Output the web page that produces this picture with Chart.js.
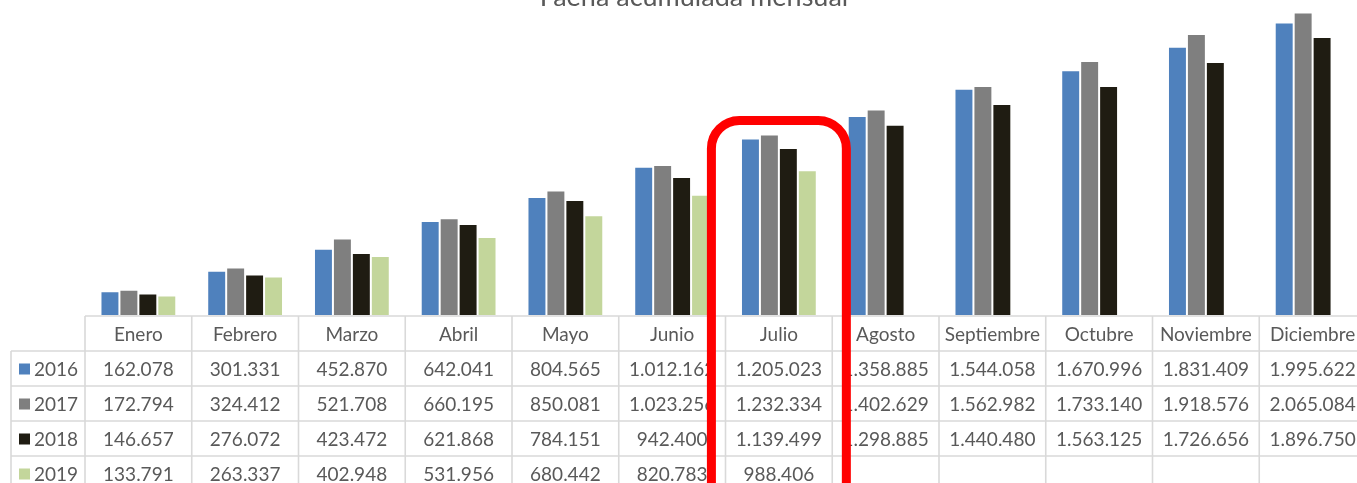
<!DOCTYPE html>
<html>
<head>
<meta charset="utf-8">
<script src="https://cdn.jsdelivr.net/npm/chart.js@4/dist/chart.umd.min.js"></script>
<style>
  html, body { margin: 0; padding: 0; background: #fff; overflow: hidden; }
  #wrap { width: 1372px; height: 483px; }
</style>
</head>
<body>
<div id="wrap"><canvas id="chart" width="1372" height="483"></canvas></div>
<script>
// datos (faena acumulada mensual)
const meses = ['Enero', 'Febrero', 'Marzo', 'Abril', 'Mayo', 'Junio', 'Julio', 'Agosto', 'Septiembre', 'Octubre', 'Noviembre', 'Diciembre'];
const anios = ['2016', '2017', '2018', '2019'];
const v2016 = [162078, 301331, 452870, 642041, 804565, 1012162, 1205023, 1358885, 1544058, 1670996, 1831409, 1995622];
const v2017 = [172794, 324412, 521708, 660195, 850081, 1023256, 1232334, 1402629, 1562982, 1733140, 1918576, 2065084];
const v2018 = [146657, 276072, 423472, 621868, 784151, 942400, 1139499, 1298885, 1440480, 1563125, 1726656, 1896750];
const v2019 = [133791, 263337, 402948, 531956, 680442, 820783, 988406, null, null, null, null, null];
const colores = ['#4F81BD', '#7F7F7F', '#1F1C12', '#C3D69B'];
const mesResaltado = 'Julio';

const series = [v2016, v2017, v2018, v2019];
const fmt = n => n == null ? '' : String(n).replace(/\B(?=(\d{3})+(?!\d))/g, '.');
const FONT = 'Lato, "Liberation Sans", sans-serif';

// tabla de datos + título + marco rojo
const tablaPlugin = {
  id: 'tabla',
  afterDraw(chart) {
    const ctx = chart.ctx;
    const x = chart.scales.x;
    const area = chart.chartArea;
    const w = x.getPixelForValue(1) - x.getPixelForValue(0);
    const top = area.bottom + 1;
    const rowH = 35;
    const left = 11;
    const colStart = x.getPixelForValue(0) - w / 2;
    const right = colStart + w * meses.length;

    ctx.save();
    // líneas
    ctx.strokeStyle = '#D9D9D9';
    ctx.lineWidth = 1.6;
    ctx.beginPath();
    ctx.moveTo(colStart, top); ctx.lineTo(right, top);
    for (let r = 1; r <= 4; r++) {
      ctx.moveTo(left, top + r * rowH); ctx.lineTo(right, top + r * rowH);
    }
    ctx.moveTo(left, top + rowH); ctx.lineTo(left, chart.height);
    for (let c = 0; c <= meses.length; c++) {
      const cx = colStart + c * w;
      ctx.moveTo(cx, top); ctx.lineTo(cx, chart.height);
    }
    ctx.stroke();

    // textos
    ctx.fillStyle = '#595959';
    ctx.font = '19px ' + FONT;
    ctx.textAlign = 'center';
    ctx.textBaseline = 'middle';
    meses.forEach((m, i) => ctx.fillText(m, x.getPixelForValue(i), top + rowH / 2 + 1));
    series.forEach((s, r) => {
      const cy = top + (r + 1.5) * rowH + 1;
      s.forEach((v, i) => ctx.fillText(fmt(v), x.getPixelForValue(i), cy));
      ctx.fillStyle = colores[r];
      ctx.fillRect(19, cy - 6, 11, 11);
      ctx.fillStyle = '#595959';
      ctx.textAlign = 'left';
      ctx.fillText(anios[r], 34, cy);
      ctx.textAlign = 'center';
    });

    // título (cortado arriba)
    ctx.font = '27px ' + FONT;
    ctx.textBaseline = 'alphabetic';
    ctx.fillText('Faena acumulada mensual', 694, 6);

    // marco rojo sobre Julio
    const j = meses.indexOf(mesResaltado);
    const cx = x.getPixelForValue(j);
    const ytop = chart.scales.y.getPixelForValue(Math.max(v2016[j], v2017[j], v2018[j], v2019[j])) - 14;
    const half = w * 0.632;
    ctx.strokeStyle = '#FF0000';
    ctx.lineWidth = 9;
    ctx.beginPath();
    ctx.roundRect(cx - half, ytop, half * 2, 400, 28);
    ctx.stroke();
    ctx.restore();
  }
};

new Chart(document.getElementById('chart'), {
  type: 'bar',
  data: {
    labels: meses,
    datasets: anios.map((a, i) => ({
      label: a,
      data: series[i],
      backgroundColor: colores[i],
      borderColor: 'rgba(255,255,255,0.35)',
      borderWidth: 1,
      categoryPercentage: 0.71,
      barPercentage: 1
    }))
  },
  options: {
    responsive: false,
    animation: false,
    layout: { padding: { left: 85, right: 6, top: 0, bottom: 168 } },
    plugins: {
      legend: { display: false },
      title: { display: false },
      tooltip: { enabled: false }
    },
    scales: {
      x: { display: false, grid: { display: false } },
      y: { display: false, min: 0, max: 2150000 }
    }
  },
  plugins: [tablaPlugin]
});
</script>
</body>
</html>
